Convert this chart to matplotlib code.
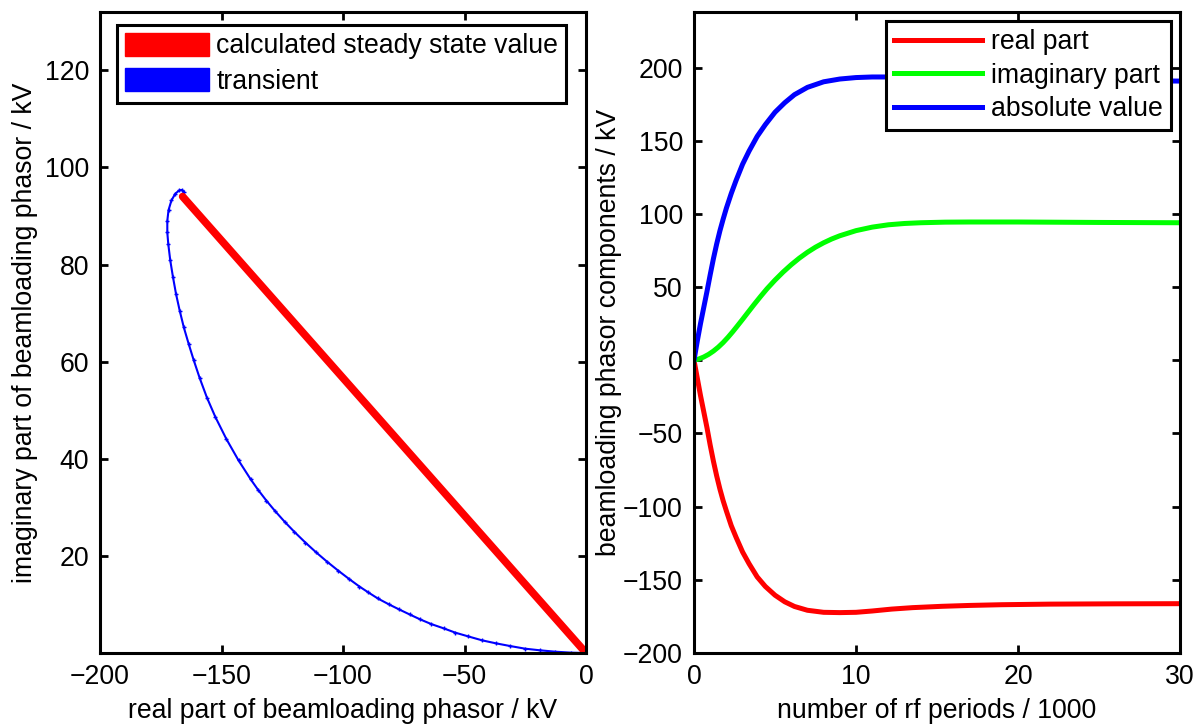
import numpy as np
import matplotlib
matplotlib.use("Agg")
from matplotlib import pyplot as plt
from matplotlib.patches import Patch

plt.rcParams['font.family'] = ['Liberation Sans', 'DejaVu Sans']
plt.rcParams['font.size'] = 19.2

# left panel: steady state point and transient trajectory (kV)
ss_re = -166.0
ss_im = 94.0

tr_re = [0, -6.06, -12.67, -18.87, -25.07, -31.27, -37.05, -42.70, -48.48, -53.72,
         -58.54, -63.64, -68.18, -72.59, -77.14, -81.27, -85.67, -89.53, -93.25,
         -97.5, -102.0, -106.5, -111.0, -115.5, -120.0, -124.0, -128.0, -131.5,
         -135.0, -138.0, -143.0, -148.0, -152.5, -156.0, -159.0, -161.5, -163.5,
         -165.5, -167.2, -168.7, -170.0, -171.1, -171.9, -172.3, -172.3, -171.8,
         -170.6, -169.0, -167.3, -166.2, -165.57]
tr_im = [0, 0.07, 0.27, 0.55, 0.89, 1.44, 1.99, 2.60, 3.42, 4.18,
         5.07, 5.95, 6.91, 7.94, 9.03, 10.06, 11.23, 12.46, 13.69,
         15.25, 16.97, 18.78, 20.7, 22.75, 24.94, 27.02, 29.26, 31.36,
         33.64, 35.77, 39.67, 44.07, 48.57, 52.6, 56.65, 60.4, 63.64,
         67.04, 70.5, 73.9, 77.5, 80.9, 84.2, 86.6, 89.0, 91.2,
         93.2, 94.6, 95.3, 95.35, 94.93]

# right panel: components vs rf periods / 1000
t_re = [0, 0.2, 0.4, 0.6, 0.8, 1.0, 1.2, 1.4, 1.6, 1.8, 2.0, 2.3, 2.6, 3.0,
        3.4, 3.9, 4.4, 5.0, 5.6, 6.2, 7.0, 8.0, 9.0, 10.0, 11.0, 12.2, 13.5,
        15.3, 17, 19, 22, 26, 30]
v_re = [0, -12, -24, -35, -46, -58, -69, -79, -88, -96, -103, -113, -121, -131,
        -139, -148, -154.5, -160.5, -165, -168.2, -170.8, -172.2, -172.4, -172.2,
        -171.3, -170, -169, -168.1, -167.5, -167, -166.6, -166.4, -166.3]

t_im = [0, 0.3, 0.6, 0.9, 1.2, 1.5, 1.8, 2.1, 2.4, 2.7, 3.0, 3.3, 3.7, 4.1,
        4.5, 5.0, 5.5, 6.0, 6.5, 7.0, 7.5, 8.0, 8.5, 9.0, 10, 11, 12, 13, 14,
        15.5, 17, 20, 25, 30]
v_im = [0, 0.9, 2.25, 4.05, 6.3, 9.0, 12.15, 15.75, 19.65, 23.8, 28.0, 32.3,
        38.0, 43.5, 48.8, 54.8, 60.3, 65.3, 69.8, 73.8, 77.3, 80.3, 82.9, 85.1,
        88.6, 91.0, 92.6, 93.5, 94.0, 94.4, 94.5, 94.5, 94.2, 94]

t_abs = [0, 0.2, 0.4, 0.6, 0.8, 1.0, 1.2, 1.4, 1.6, 1.8, 2.0, 2.3, 2.6, 3.0,
         3.4, 3.9, 4.4, 5.0, 5.6, 6.2, 7.0, 8.0, 9.0, 10.0, 11.0, 12.0, 13.5,
         15, 17.5, 20, 25, 30]
v_abs = [0, 13, 25, 36, 47, 58.5, 69.5, 79.5, 88.5, 96.5, 104, 114, 123, 134,
         143, 153, 161, 169.5, 176, 181.5, 186.5, 190.3, 192.2, 193.2, 193.6,
         193.6, 193.5, 193.2, 192.6, 192, 191.2, 190.8]

red = '#ff0000'
green = '#00ff00'
blue = '#0000ff'

fig = plt.figure(figsize=(11.97, 7.27), dpi=100)
ax1 = fig.add_axes([100/1197, 74/727, 486/1197, 641/727])
ax2 = fig.add_axes([694/1197, 74/727, 486/1197, 641/727])


def style(ax):
    for s in ax.spines.values():
        s.set_linewidth(2.2)
    ax.tick_params(direction='in', length=6, width=2, top=True, right=True,
                   pad=8)


def minus(v):
    return ('\u2212' + str(-v)) if v < 0 else str(v)


# left
ax1.plot(tr_re, tr_im, color=blue, lw=1.5, marker='+', ms=3, mew=1)
ax1.plot([0, ss_re], [0, ss_im], color=red, lw=5.5, solid_capstyle='round')
ax1.set_xlim(-200, 0)
ax1.set_ylim(0, 132)
ax1.set_xticks([-200, -150, -100, -50, 0])
ax1.set_yticks([20, 40, 60, 80, 100, 120])
ax1.set_xticklabels([minus(v) for v in [-200, -150, -100, -50, 0]])
ax1.set_xlabel('real part of beamloading phasor / kV', labelpad=6)
ax1.set_ylabel('imaginary part of beamloading phasor / kV', labelpad=5)
style(ax1)
h1 = [Patch(color=red), Patch(color=blue)]
leg1 = ax1.legend(h1, ['calculated steady state value', 'transient'],
                  loc='upper left', bbox_to_anchor=(0.035, 0.98),
                  borderaxespad=0, fancybox=False, framealpha=1,
                  handlelength=3.15, handleheight=0.95, labelspacing=0.32,
                  handletextpad=0.28, borderpad=0.3)
leg1.get_frame().set_edgecolor('black')
leg1.get_frame().set_linewidth(2.2)

# right
ax2.plot(t_re, v_re, color=red, lw=3.6, label='real part')
ax2.plot(t_im, v_im, color=green, lw=3.6, label='imaginary part')
ax2.plot(t_abs, v_abs, color=blue, lw=3.6, label='absolute value')
ax2.set_xlim(0, 30)
ax2.set_ylim(-200, 238)
ax2.set_xticks([0, 10, 20, 30])
ax2.set_yticks(np.arange(-200, 201, 50))
ax2.set_yticklabels([minus(v) for v in range(-200, 201, 50)])
ax2.set_xlabel('number of rf periods / 1000', labelpad=6)
ax2.set_ylabel('beamloading phasor components / kV', labelpad=1)
style(ax2)
leg2 = ax2.legend(loc='upper right', borderaxespad=0.35, fancybox=False,
                  framealpha=1, handlelength=3.3, labelspacing=0.28,
                  handletextpad=0.35, borderpad=0.3)
leg2.get_frame().set_edgecolor('black')
leg2.get_frame().set_linewidth(2.2)

fig.savefig('out.png', dpi=100)
